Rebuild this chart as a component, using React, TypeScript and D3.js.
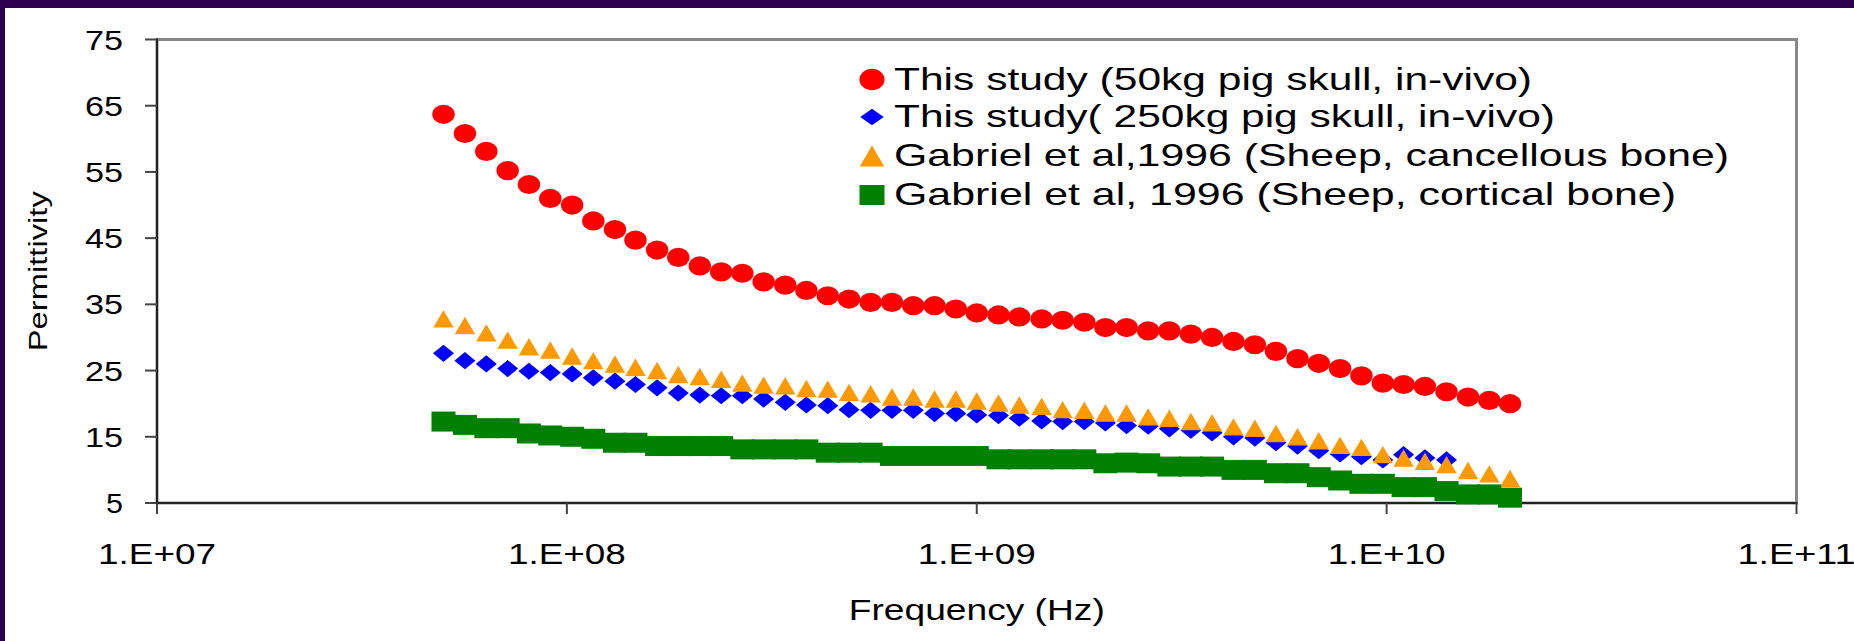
import React from 'react';
import * as d3 from 'd3';

const freqHz = [
   5.0e7, 5.64e7, 6.36e7, 7.17e7, 8.08e7, 9.11e7, 1.03e8, 1.16e8, 1.31e8, 1.47e8,
   1.66e8, 1.87e8, 2.11e8, 2.38e8, 2.68e8, 3.02e8, 3.41e8, 3.84e8, 4.33e8, 4.88e8,
   5.51e8, 6.21e8, 7.0e8, 7.89e8, 8.89e8, 1.0e9, 1.13e9, 1.27e9, 1.44e9, 1.62e9,
   1.83e9, 2.06e9, 2.32e9, 2.62e9, 2.95e9, 3.33e9, 3.75e9, 4.23e9, 4.77e9, 5.37e9,
   6.06e9, 6.83e9, 7.7e9, 8.68e9, 9.79e9, 1.1e10, 1.24e10, 1.4e10, 1.58e10, 1.78e10,
   2.0e10,
];

const pig50kg = [
   63.7, 60.8, 58.1, 55.2, 53.1, 51.0, 50.0, 47.6, 46.3, 44.7,
   43.2, 42.1, 40.8, 39.9, 39.7, 38.4, 37.9, 37.1, 36.3, 35.8,
   35.3, 35.3, 34.8, 34.8, 34.3, 33.7, 33.4, 33.1, 32.8, 32.6,
   32.3, 31.5, 31.5, 31.0, 31.0, 30.5, 30.0, 29.4, 28.9, 27.9,
   26.8, 26.1, 25.3, 24.2, 23.1, 22.9, 22.6, 21.8, 21.0, 20.5,
   20.0,
];

const pig250kg = [
   27.6, 26.5, 26.0, 25.3, 24.9, 24.7, 24.5, 23.9, 23.4, 22.9,
   22.4, 21.6, 21.3, 21.2, 21.2, 20.7, 20.2, 19.8, 19.7, 19.1,
   19.0, 19.0, 19.0, 18.5, 18.5, 18.3, 18.2, 17.8, 17.4, 17.3,
   17.3, 17.1, 16.7, 16.6, 16.2, 16.0, 15.6, 15.0, 14.8, 14.1,
   13.6, 12.9, 12.4, 12.0, 11.5, 12.3, 11.8, 11.5,
];

const sheepCancellous = [
   32.8, 31.8, 30.7, 29.6, 28.6, 28.1, 27.2, 26.5, 26.0, 25.5,
   25.0, 24.4, 24.1, 23.7, 23.1, 22.8, 22.7, 22.3, 22.2, 21.7,
   21.5, 21.0, 21.0, 20.7, 20.7, 20.4, 20.1, 19.8, 19.6, 19.1,
   19.0, 18.6, 18.6, 18.0, 17.8, 17.3, 17.1, 16.5, 16.3, 15.5,
   15.0, 14.4, 13.7, 13.4, 12.3, 11.8, 11.3, 10.8, 9.9, 9.4,
   8.7,
];

const sheepCortical = [
   17.3, 16.8, 16.3, 16.3, 15.5, 15.2, 15.0, 14.7, 14.1, 14.1,
   13.6, 13.6, 13.6, 13.6, 13.1, 13.1, 13.1, 13.1, 12.6, 12.6,
   12.6, 12.1, 12.1, 12.1, 12.1, 12.1, 11.6, 11.6, 11.6, 11.6,
   11.6, 11.0, 11.1, 11.0, 10.5, 10.5, 10.5, 10.0, 10.0, 9.5,
   9.5, 8.9, 8.4, 7.9, 7.9, 7.4, 7.4, 6.8, 6.3, 6.3,
   5.8,
];

const yTicks = [5, 15, 25, 35, 45, 55, 65, 75];
const xTicks = [1e7, 1e8, 1e9, 1e10, 1e11];
const xTickLabels = ['1.E+07', '1.E+08', '1.E+09', '1.E+10', '1.E+11'];

const legendLabels = [
   'This study (50kg pig skull, in-vivo)',
   'This study( 250kg pig skull, in-vivo)',
   'Gabriel et al,1996 (Sheep, cancellous bone)',
   'Gabriel et al, 1996 (Sheep, cortical bone)',
];
const legendWidths = [638, 661, 835, 782];

type Shape = 'circle' | 'diamond' | 'triangle' | 'square';

const series: { values: number[]; color: string; shape: Shape }[] = [
   { values: pig50kg, color: '#FF0000', shape: 'circle' },
   { values: pig250kg, color: '#0000FF', shape: 'diamond' },
   { values: sheepCancellous, color: '#FF9900', shape: 'triangle' },
   { values: sheepCortical, color: '#008000', shape: 'square' },
];

const W = 1854;
const H = 641;
const plot = { left: 157, right: 1796.5, top: 39.5, bottom: 503 };
const FONT = '"Liberation Sans", Arial, Helvetica, sans-serif';

const x = d3.scaleLog().domain([1e7, 1e11]).range([plot.left, plot.right]);
const y = d3.scaleLinear().domain([5, 75]).range([plot.bottom, plot.top]);

// markers are slightly wider than tall, as in the source picture
const Marker: React.FC<{ shape: Shape; cx: number; cy: number; color: string; big?: boolean }> = ({
   shape, cx, cy, color, big,
}) => {
   const k = big ? 1.12 : 1;
   if (shape === 'circle') {
      return <ellipse cx={cx} cy={cy} rx={11.2 * k} ry={9.6 * k} fill={color} />;
   }
   if (shape === 'square') {
      const w = 24 * (big ? 1.04 : 1);
      const h = 20;
      return <rect x={cx - w / 2} y={cy - h / 2} width={w} height={h} fill={color} />;
   }
   if (shape === 'diamond') {
      const w = 10.5 * k;
      const h = 8.6 * (big ? 0.96 : 1);
      return <path d={`M${cx},${cy - h}L${cx + w},${cy}L${cx},${cy + h}L${cx - w},${cy}Z`} fill={color} />;
   }
   const w = 10.2 * (big ? 1.2 : 1);
   const h = 8.7 * (big ? 1.2 : 1);
   return <path d={`M${cx},${cy - h}L${cx + w},${cy + h}L${cx - w},${cy + h}Z`} fill={color} />;
};

const App: React.FC = () => {
   const legendY = [79.5, 117, 156, 195];

   return (
      <div style={{ position: 'absolute', left: 0, top: 0, width: W, height: H }}>
         <svg width={W} height={H} viewBox={`0 0 ${W} ${H}`} style={{ display: 'block' }}>
            <rect x={0} y={0} width={W} height={H} fill="#2D004F" />
            <rect x={5} y={8} width={W - 5} height={H - 8} fill="#FFFFFF" />

            {/* plot area frame */}
            <rect
               x={plot.left}
               y={plot.top}
               width={plot.right - plot.left}
               height={plot.bottom - plot.top}
               fill="none"
               stroke="#888888"
               strokeWidth={3}
            />

            {/* y axis */}
            <line x1={plot.left} x2={plot.left} y1={plot.top - 1} y2={plot.bottom + 1} stroke="#222" strokeWidth={2} />
            {yTicks.map((t) => (
               <g key={`y${t}`}>
                  <line x1={plot.left - 12} x2={plot.left} y1={y(t)} y2={y(t)} stroke="#444" strokeWidth={2} />
                  <text
                     x={123}
                     y={y(t) + 10}
                     textAnchor="end"
                     fontFamily={FONT}
                     fontSize={28}
                     textLength={t < 10 ? 17 : 38}
                     lengthAdjust="spacingAndGlyphs"
                     fill="#000"
                  >
                     {t}
                  </text>
               </g>
            ))}

            {/* x axis */}
            <line x1={plot.left - 1} x2={plot.right + 1} y1={plot.bottom} y2={plot.bottom} stroke="#222" strokeWidth={2} />
            {xTicks.map((t, i) => (
               <g key={`x${t}`}>
                  <line x1={x(t)} x2={x(t)} y1={plot.bottom} y2={plot.bottom + 11} stroke="#444" strokeWidth={2} />
                  <text
                     x={x(t)}
                     y={564}
                     textAnchor="middle"
                     fontFamily={FONT}
                     fontSize={29}
                     textLength={118}
                     lengthAdjust="spacingAndGlyphs"
                     fill="#000"
                  >
                     {xTickLabels[i]}
                  </text>
               </g>
            ))}

            <text
               x={(plot.left + plot.right) / 2}
               y={620}
               textAnchor="middle"
               fontFamily={FONT}
               fontSize={29}
               textLength={256}
               lengthAdjust="spacingAndGlyphs"
            >
               Frequency (Hz)
            </text>
            <text
               transform={`translate(47,${(plot.top + plot.bottom) / 2}) rotate(-90)`}
               textAnchor="middle"
               fontFamily={FONT}
               fontSize={26}
               textLength={160}
               lengthAdjust="spacingAndGlyphs"
            >
               Permittivity
            </text>

            {/* data */}
            {series.map((s, si) => (
               <g key={`s${si}`}>
                  {s.values.map((v, i) => (
                     <Marker key={i} shape={s.shape} cx={x(freqHz[i])} cy={y(v)} color={s.color} />
                  ))}
               </g>
            ))}

            {/* legend */}
            {series.map((s, i) => (
               <g key={`l${i}`}>
                  <Marker shape={s.shape} cx={872} cy={legendY[i]} color={s.color} big />
                  <text
                     x={894}
                     y={legendY[i] + 10}
                     fontFamily={FONT}
                     fontSize={32}
                     textLength={legendWidths[i]}
                     lengthAdjust="spacingAndGlyphs"
                     fill="#000"
                  >
                     {legendLabels[i]}
                  </text>
               </g>
            ))}
         </svg>
      </div>
   );
};

export default App;
